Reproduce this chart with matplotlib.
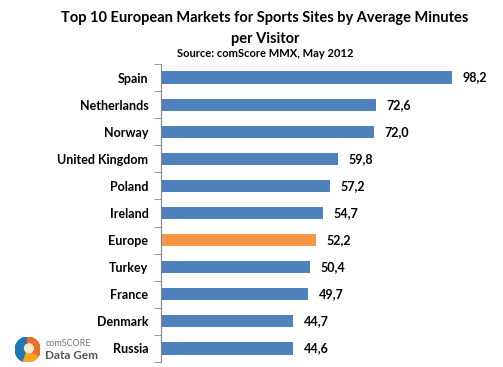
import numpy as np
import matplotlib
matplotlib.use("agg")
import matplotlib.pyplot as plt
from matplotlib.patches import Wedge, Circle

plt.rcParams['font.family'] = ['Lato', 'DejaVu Sans']

# data
markets = ["Spain", "Netherlands", "Norway", "United Kingdom", "Poland", "Ireland",
           "Europe", "Turkey", "France", "Denmark", "Russia"]
minutes = [98.2, 72.6, 72.0, 59.8, 57.2, 54.7, 52.2, 50.4, 49.7, 44.7, 44.6]

blue = "#4F81BD"
orange = "#F79646"
colors = [orange if m == "Europe" else blue for m in markets]

fig = plt.figure(figsize=(5.03, 3.67), dpi=100)
ax = fig.add_axes([0.32, 0.0136, 0.648, 0.812])

y = np.arange(len(markets))
ax.barh(y, minutes, height=0.45, color=colors)
ax.set_ylim(len(markets) - 0.5, -0.5)
ax.set_xlim(0, 110)

for yi, v in zip(y, minutes):
    ax.text(v + 3.5, yi, f"{v:.1f}".replace(".", ","), va="center", ha="left",
            fontsize=9, fontweight="bold")

ax.set_yticks(y)
ax.set_yticklabels(markets, fontsize=9, fontweight="bold")
ax.set_yticks(np.arange(-0.5, len(markets)), minor=True)
ax.tick_params(axis="y", which="major", length=0, pad=9)
ax.tick_params(axis="y", which="minor", length=5, color="#868686")
ax.set_xticks([])
for s in ["top", "right", "bottom"]:
    ax.spines[s].set_visible(False)
ax.spines["left"].set_color("#868686")

fig.text(0.527, 0.95, "Top 10 European Markets for Sports Sites by Average Minutes",
         ha="center", va="center", fontsize=10.5, fontweight="bold")
fig.text(0.527, 0.895, "per Visitor", ha="center", va="center", fontsize=10.5, fontweight="bold")
fig.text(0.527, 0.855, "Source: comScore MMX, May 2012", ha="center", va="center",
         fontsize=8, fontweight="bold")

# logo
lax = fig.add_axes([0.03, 0.01, 0.05, 0.075])
lax.set_xlim(-1, 1)
lax.set_ylim(-1, 1)
lax.set_aspect("equal")
lax.axis("off")
lax.add_patch(Wedge((0, 0), 1, 90, 250, color="#1f77b4"))
lax.add_patch(Wedge((0, 0), 1, 250, 330, color="#f5a623"))
lax.add_patch(Wedge((0, 0), 1, 330, 450, color="#e8702a"))
lax.add_patch(Circle((0.1, 0.1), 0.35, color="#f5e6c8"))
fig.text(0.09, 0.065, "comSCORE", fontsize=6.5, color="#777777", va="center")
fig.text(0.09, 0.03, "Data Gem", fontsize=8.5, fontweight="bold", color="#555555", va="center")

fig.savefig("out.png", dpi=100)
